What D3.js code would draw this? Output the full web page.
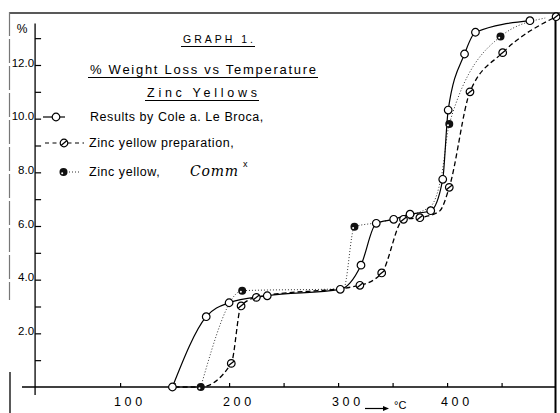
<!DOCTYPE html>
<html>
<head>
<meta charset="utf-8">
<script src="https://cdn.jsdelivr.net/npm/d3@7"></script>
<style>
  body { margin: 0; background: #fff; }
  svg { display: block; font-family: 'Liberation Sans', Arial, sans-serif; }
</style>
</head>
<body>
<script>
const w = 560;
const h = 413;

// % weight loss against temperature (deg C)
const coleTemp = [148, 179, 200, 235, 302, 321, 335, 351, 366, 385, 396, 401, 416, 426, 476];
const coleLoss = [0, 2.62, 3.14, 3.40, 3.64, 4.54, 6.10, 6.25, 6.44, 6.57, 7.74, 10.32, 12.41, 13.22, 13.65];

const prepTemp = [150, 174, 202, 211, 225, 320, 340, 360, 375, 393, 402, 421, 451, 500];
const prepLoss = [0, 0, 0.88, 3.02, 3.34, 3.79, 4.25, 6.25, 6.31, 6.55, 7.44, 11.0, 12.46, 13.8];
const prepMarked = [0, 0, 1, 1, 1, 1, 1, 1, 1, 0, 1, 1, 1, 1];

const commTemp = [174, 212, 305, 315, 335, 384, 395, 402, 449, 490];
const commLoss = [0, 3.59, 3.66, 5.97, 6.12, 6.7, 7.9, 9.8, 13.06, 13.75];
const commMarked = [1, 1, 0, 1, 0, 0, 0, 1, 1, 0];

const yTicks = [1, 2, 3, 4, 5, 6, 7, 8, 9, 10, 11, 12, 13];
const yLabelled = [2, 4, 6, 8, 10, 12];
const xTicks = [100, 150, 200, 250, 300, 350, 400, 450];
const xLabelled = [100, 200, 300, 400];

const legendNames = ['Results by Cole a. Le Broca,', 'Zinc yellow preparation,', 'Zinc yellow,'];

const svg = d3.select('body')
    .append('svg')
    .attr('width', w)
    .attr('height', h);

svg.append('rect').attr('width', w).attr('height', h).attr('fill', '#fff');

const xScale = d3.scaleLinear().domain([10, 499]).range([22, 555]);
const yScale = d3.scaleLinear().domain([0, 13.55]).range([387, 23.4]);
const axisX = xScale(22);

// page frame
svg.append('line').attr('x1', 10).attr('x2', 560).attr('y1', 13).attr('y2', 13)
    .attr('stroke', '#222').attr('stroke-width', 1.3);
svg.append('line').attr('x1', 555.5).attr('x2', 555.5).attr('y1', 13).attr('y2', h)
    .attr('stroke', '#000').attr('stroke-width', 2);
svg.append('line').attr('x1', 9.5).attr('x2', 9.5).attr('y1', 12).attr('y2', 300)
    .attr('stroke', '#777').attr('stroke-width', 1.2).attr('stroke-dasharray', '24,3');
svg.append('line').attr('x1', 10).attr('x2', 10).attr('y1', 372).attr('y2', h)
    .attr('stroke', '#000').attr('stroke-width', 1.3);

// y axis
const yAxis = d3.axisLeft(yScale)
    .tickValues(yTicks)
    .tickSize(-6)
    .tickPadding(1)
    .tickFormat((d) => yLabelled.includes(d) ? d3.format('.1f')(d) : '');

const gy = svg.append('g')
    .attr('id', 'y-axis')
    .attr('transform', 'translate(' + axisX + ', 0)')
    .call(yAxis);
gy.select('.domain').remove();
gy.selectAll('line').attr('stroke', '#000').attr('stroke-width', 1.2);
gy.selectAll('text')
    .attr('dy', '0.1em')
    .attr('fill', '#000')
    .style('font-size', '11.5px')
    .style('font-family', "'Liberation Sans', Arial, sans-serif");
svg.append('line')
    .attr('x1', axisX).attr('x2', axisX)
    .attr('y1', yScale(13.55)).attr('y2', yScale(-0.3))
    .attr('stroke', '#000').attr('stroke-width', 1.3);
svg.append('text')
    .attr('x', 22).attr('y', 33)
    .attr('text-anchor', 'middle')
    .style('font-size', '12px')
    .text('%');

// x axis
const xAxis = d3.axisBottom(xScale)
    .tickValues(xTicks)
    .tickSize(-4)
    .tickFormat((d) => xLabelled.includes(d) ? d : '');

const gx = svg.append('g')
    .attr('id', 'x-axis')
    .attr('transform', 'translate(0, ' + yScale(0) + ')')
    .call(xAxis);
gx.select('.domain').remove();
gx.selectAll('line').attr('stroke', '#000').attr('stroke-width', 1.2);
gx.selectAll('text')
    .attr('x', 7.5)
    .attr('y', 19)
    .attr('dy', null)
    .attr('fill', '#000')
    .attr('textLength', (d) => xLabelled.includes(d) ? 28 : null)
    .attr('lengthAdjust', 'spacing')
    .style('font-size', '12.5px')
    .style('font-family', "'Liberation Sans', Arial, sans-serif");
svg.append('line')
    .attr('x1', xScale(10)).attr('x2', xScale(499))
    .attr('y1', yScale(0)).attr('y2', yScale(0))
    .attr('stroke', '#000').attr('stroke-width', 1.4);

// -> degC
svg.append('line').attr('x1', 365).attr('x2', 385).attr('y1', 408.5).attr('y2', 408.5)
    .attr('stroke', '#000').attr('stroke-width', 1.2);
svg.append('path').attr('d', 'M383,406 L389,408.5 L383,411 Z').attr('fill', '#000');
svg.append('text').attr('x', 394).attr('y', 409).style('font-size', '11px').text('°C');

// titles
function heading(txt, x, y, len, size) {
    svg.append('text')
        .attr('x', x).attr('y', y)
        .attr('textLength', len)
        .attr('lengthAdjust', 'spacing')
        .style('font-size', size + 'px')
        .text(txt);
    svg.append('line')
        .attr('x1', x - 2).attr('x2', x + len + 2)
        .attr('y1', y + 3.5).attr('y2', y + 3.5)
        .attr('stroke', '#000').attr('stroke-width', 1.1);
}
heading('GRAPH 1.', 183, 43, 70, 10.5);
heading('% Weight Loss vs Temperature', 90, 74, 226, 13);
heading('Zinc Yellows', 147, 97, 110, 12.5);

// curves
const line = d3.line()
    .x((d) => xScale(d[0]))
    .y((d) => yScale(d[1]))
    .curve(d3.curveMonotoneX);

svg.append('path')
    .datum(d3.zip(commTemp, commLoss))
    .attr('d', line)
    .attr('fill', 'none')
    .attr('stroke', '#333')
    .attr('stroke-width', 1)
    .attr('stroke-dasharray', '1,2');

svg.append('path')
    .datum(d3.zip(prepTemp, prepLoss))
    .attr('d', line)
    .attr('fill', 'none')
    .attr('stroke', '#000')
    .attr('stroke-width', 1.3)
    .attr('stroke-dasharray', '5,3');

svg.append('path')
    .datum(d3.zip(coleTemp, coleLoss))
    .attr('d', line)
    .attr('fill', 'none')
    .attr('stroke', '#000')
    .attr('stroke-width', 1.2);

// markers
function openMarker(g) {
    g.append('circle')
        .attr('r', 3.8)
        .attr('fill', '#fff')
        .attr('stroke', '#000')
        .attr('stroke-width', 1.2);
}
function slashMarker(g) {
    openMarker(g);
    g.append('line')
        .attr('x1', -3).attr('y1', 2.4)
        .attr('x2', 3).attr('y2', -2.4)
        .attr('stroke', '#000')
        .attr('stroke-width', 1.3);
}
function solidMarker(g) {
    g.append('circle')
        .attr('r', 4)
        .attr('fill', '#111');
    g.append('circle')
        .attr('cx', -1.3).attr('cy', 1.2)
        .attr('r', 1)
        .attr('fill', '#fff');
}

svg.selectAll('.comm')
    .data(d3.zip(commTemp, commLoss).filter((d, i) => commMarked[i]))
    .enter()
    .append('g')
    .attr('class', 'comm')
    .attr('transform', (d) => 'translate(' + xScale(d[0]) + ',' + yScale(d[1]) + ')')
    .each(function() { solidMarker(d3.select(this)); });

svg.selectAll('.prep')
    .data(d3.zip(prepTemp, prepLoss).filter((d, i) => prepMarked[i]))
    .enter()
    .append('g')
    .attr('class', 'prep')
    .attr('transform', (d) => 'translate(' + xScale(d[0]) + ',' + yScale(d[1]) + ')')
    .each(function() { slashMarker(d3.select(this)); });

svg.selectAll('.cole')
    .data(d3.zip(coleTemp, coleLoss))
    .enter()
    .append('g')
    .attr('class', 'cole')
    .attr('transform', (d) => 'translate(' + xScale(d[0]) + ',' + yScale(d[1]) + ')')
    .each(function() { openMarker(d3.select(this)); });

// legend
const lg = svg.append('g').attr('id', 'legend');
lg.append('line').attr('x1', 43).attr('x2', 65).attr('y1', 117).attr('y2', 117)
    .attr('stroke', '#000').attr('stroke-width', 1.2);
openMarker(lg.append('g').attr('transform', 'translate(56, 117)'));

lg.append('line').attr('x1', 45).attr('x2', 84).attr('y1', 143).attr('y2', 143)
    .attr('stroke', '#000').attr('stroke-width', 1.2).attr('stroke-dasharray', '4,3.5');
slashMarker(lg.append('g').attr('transform', 'translate(64, 143)'));

lg.append('line').attr('x1', 69).attr('x2', 79).attr('y1', 172).attr('y2', 172)
    .attr('stroke', '#333').attr('stroke-width', 1).attr('stroke-dasharray', '1,2');
solidMarker(lg.append('g').attr('transform', 'translate(63.5, 172)'));

lg.selectAll('.name')
    .data(legendNames)
    .enter()
    .append('text')
    .attr('class', 'name')
    .attr('x', (d, i) => i === 0 ? 90 : 89)
    .attr('y', (d, i) => [121, 147, 175.5][i])
    .style('font-size', '12.5px')
    .style('letter-spacing', '0.55px')
    .text((d) => d);

lg.append('text')
    .attr('x', 190).attr('y', 176)
    .attr('textLength', 48)
    .attr('lengthAdjust', 'spacing')
    .style('font-family', "'DejaVu Serif', serif")
    .style('font-style', 'italic')
    .style('font-size', '14px')
    .text('Comm');
lg.append('text')
    .attr('x', 243).attr('y', 167)
    .style('font-size', '9px')
    .text('x');
</script>
</body>
</html>
